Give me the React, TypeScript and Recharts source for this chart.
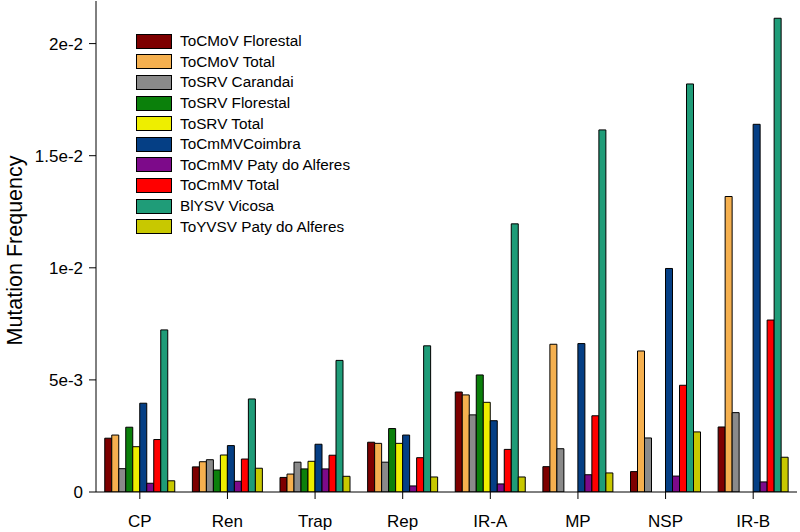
import React from "react";
import { BarChart, Bar, XAxis, YAxis, Legend, Label } from "recharts";

const categories = ["CP", "Ren", "Trap", "Rep", "IR-A", "MP", "NSP", "IR-B"];

const seriesNames = [
  "ToCMoV Florestal",
  "ToCMoV Total",
  "ToSRV Carandai",
  "ToSRV Florestal",
  "ToSRV Total",
  "ToCmMVCoimbra",
  "ToCmMV Paty do Alferes",
  "ToCmMV Total",
  "BlYSV Vicosa",
  "ToYVSV Paty do Alferes",
];

const seriesColors = [
  "#7d0000",
  "#f5b04f",
  "#8a8a8a",
  "#0b800b",
  "#eeee00",
  "#053f85",
  "#7d0a8a",
  "#ff0000",
  "#1f9c78",
  "#c8c800",
];

const tocmovFlorestal = [0.0024, 0.00112, 0.00065, 0.00222, 0.00446, 0.00113, 0.00091, 0.0029];
const tocmovTotal = [0.00254, 0.00135, 0.0008, 0.00217, 0.00433, 0.00659, 0.00629, 0.01318];
const tosrvCarandai = [0.00104, 0.00144, 0.00133, 0.00133, 0.00344, 0.00193, 0.00241, 0.00354];
const tosrvFlorestal = [0.00289, 0.00098, 0.00103, 0.00283, 0.00522, null, null, null];
const tosrvTotal = [0.00202, 0.00165, 0.00137, 0.00217, 0.004, null, null, null];
const tocmmvCoimbra = [0.00396, 0.00207, 0.00213, 0.00254, 0.00318, 0.00662, 0.00997, 0.0164];
const tocmmvPaty = [0.00039, 0.00048, 0.00103, 0.00027, 0.00036, 0.00077, 0.00071, 0.00045];
const tocmmvTotal = [0.00234, 0.00147, 0.00164, 0.00153, 0.0019, 0.0034, 0.00476, 0.00767];
const blysvVicosa = [0.00723, 0.00415, 0.00587, 0.00652, 0.01196, 0.01615, 0.0182, 0.02113];
const toyvsvPaty = [0.0005, 0.00106, 0.0007, 0.00067, 0.00067, 0.00085, 0.00268, 0.00155];

const yTicks = [0, 0.005, 0.01, 0.015, 0.02];
const yTickLabels = ["0", "5e-3", "1e-2", "1.5e-2", "2e-2"];

const seriesValues = [
  tocmovFlorestal,
  tocmovTotal,
  tosrvCarandai,
  tosrvFlorestal,
  tosrvTotal,
  tocmmvCoimbra,
  tocmmvPaty,
  tocmmvTotal,
  blysvVicosa,
  toyvsvPaty,
];

const data = categories.map((cat, i) => {
  const row: Record<string, string | number | null> = { cat };
  seriesValues.forEach((vals, s) => {
    row["s" + s] = vals[i];
  });
  return row;
});

const font = "'Liberation Sans', Arial, sans-serif";

const LegendBox = () => (
  <div style={{ fontFamily: font, fontSize: 15.3, color: "#000" }}>
    {seriesNames.map((name, i) => (
      <div
        key={name}
        style={{ display: "flex", alignItems: "center", height: 20.6, whiteSpace: "nowrap" }}
      >
        <span
          style={{
            display: "inline-block",
            width: 34,
            height: 13,
            background: seriesColors[i],
            border: "1px solid #000",
            marginRight: 8,
          }}
        />
        <span>{name}</span>
      </div>
    ))}
  </div>
);

export default function App() {
  return (
    <div style={{ position: "absolute", left: 0, top: 0, width: 800, height: 532, background: "#fff" }}>
      <BarChart
        width={800}
        height={532}
        data={data}
        margin={{ top: 1, right: 3, bottom: 0, left: 0 }}
        barCategoryGap="10%"
        barGap={0}
        style={{ fontFamily: font }}
      >
        <XAxis
          dataKey="cat"
          height={40}
          tickSize={7}
          tickMargin={16}
          stroke="#000"
          tick={{ fill: "#000", fontSize: 17, fontFamily: font }}
        />
        <XAxis
          xAxisId="top"
          dataKey="cat"
          orientation="top"
          height={0}
          tick={false}
          tickLine={false}
          stroke="#333"
        />
        <YAxis
          width={96}
          domain={[0, 0.0219]}
          ticks={yTicks}
          allowDataOverflow
          tickSize={7}
          tickMargin={6}
          stroke="#000"
          tickFormatter={(v: number) => yTickLabels[yTicks.indexOf(v)] ?? String(v)}
          tick={{ fill: "#000", fontSize: 17, fontFamily: font }}
        >
          <Label
            value="Mutation Frequency"
            angle={-90}
            position="insideLeft"
            offset={14}
            dy={4}
            style={{ fontSize: 21.5, fill: "#000", fontFamily: font, textAnchor: "middle" }}
          />
        </YAxis>
        <YAxis
          yAxisId="right"
          orientation="right"
          width={0}
          domain={[0, 1]}
          tick={false}
          tickLine={false}
          stroke="#333"
        />
        <Legend
          layout="vertical"
          align="center"
          verticalAlign="middle"
          wrapperStyle={{ left: 136, top: 31, width: 260 }}
          content={() => <LegendBox />}
        />
        {seriesNames.map((name, i) => (
          <Bar
            key={name}
            dataKey={"s" + i}
            name={name}
            fill={seriesColors[i]}
            stroke="#000"
            strokeWidth={1}
            isAnimationActive={false}
          />
        ))}
      </BarChart>
    </div>
  );
}
